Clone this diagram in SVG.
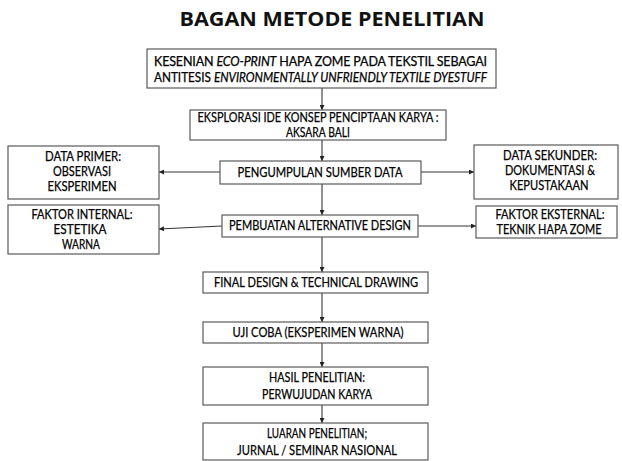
<svg xmlns="http://www.w3.org/2000/svg" width="622" height="461" viewBox="0 0 622 461">
<defs>
<style>
.box{fill:#fff;stroke:#5a5a5a;stroke-width:1.2}
.t{font-family:Lato,"Liberation Sans",sans-serif;font-size:12.5px;fill:#000;stroke:#000;stroke-width:0.25;text-anchor:middle}
.j{font-family:Lato,"Liberation Sans",sans-serif;font-size:12.5px;fill:#000;stroke:#000;stroke-width:0.25}
.title{font-family:"Open Sans","Liberation Sans",sans-serif;font-weight:bold;font-size:20px;fill:#111;text-anchor:middle}
.c{stroke:#333;stroke-width:1.1;fill:none;marker-end:url(#ah)}
</style>
<marker id="ah" viewBox="0 0 6 6" refX="6" refY="3" markerWidth="5" markerHeight="5" orient="auto" markerUnits="userSpaceOnUse">
<path d="M0,0 L6,3 L0,6 z" fill="#222"/>
</marker>
</defs>
<rect width="622" height="461" fill="#fff"/>
<text class="title" x="332" y="26" textLength="305" lengthAdjust="spacingAndGlyphs">BAGAN METODE PENELITIAN</text>

<g id="connectors">
<line class="c" x1="322" y1="88" x2="322" y2="110"/>
<line class="c" x1="322" y1="140" x2="322" y2="161"/>
<line class="c" x1="322" y1="184" x2="322" y2="215"/>
<line class="c" x1="322" y1="237" x2="322" y2="272"/>
<line class="c" x1="322" y1="293" x2="322" y2="322"/>
<line class="c" x1="322" y1="343" x2="322" y2="367"/>
<line class="c" x1="322" y1="405" x2="322" y2="423"/>
<line class="c" x1="220" y1="172" x2="159" y2="172"/>
<line class="c" x1="421" y1="172" x2="474" y2="172"/>
<line class="c" x1="222" y1="226" x2="159" y2="229"/>
<line class="c" x1="418" y1="226" x2="476" y2="226"/>
</g>

<g id="n1">
<rect class="box" x="147" y="49" width="349" height="39"/>
<text class="j" x="154" y="66" textLength="333" lengthAdjust="spacing">KESENIAN <tspan font-style="italic">ECO-PRINT</tspan> HAPA ZOME PADA TEKSTIL SEBAGAI</text>
<text class="j" x="154" y="82" textLength="333" lengthAdjust="spacingAndGlyphs">ANTITESIS <tspan font-style="italic">ENVIRONMENTALLY UNFRIENDLY TEXTILE DYESTUFF</tspan></text>
</g>

<g id="n2">
<rect class="box" x="190" y="110" width="256" height="30"/>
<text class="t" x="318" y="122" textLength="241" lengthAdjust="spacingAndGlyphs">EKSPLORASI IDE KONSEP PENCIPTAAN KARYA :</text>
<text class="t" x="318" y="137" textLength="64" lengthAdjust="spacingAndGlyphs">AKSARA BALI</text>
</g>

<g id="n3">
<rect class="box" x="220" y="161" width="201" height="23"/>
<text class="t" x="320" y="177" textLength="165" lengthAdjust="spacingAndGlyphs">PENGUMPULAN SUMBER DATA</text>
</g>

<g id="n4">
<rect class="box" x="222" y="215" width="196" height="22"/>
<text class="t" x="320" y="230" textLength="182" lengthAdjust="spacingAndGlyphs">PEMBUATAN ALTERNATIVE DESIGN</text>
</g>

<g id="n5">
<rect class="box" x="8" y="146" width="151" height="53"/>
<text class="t" x="83" y="161" textLength="76" lengthAdjust="spacingAndGlyphs">DATA PRIMER:</text>
<text class="t" x="82" y="176" textLength="58" lengthAdjust="spacingAndGlyphs">OBSERVASI</text>
<text class="t" x="82" y="191" textLength="69" lengthAdjust="spacingAndGlyphs">EKSPERIMEN</text>
</g>

<g id="n6">
<rect class="box" x="8" y="205" width="151" height="49"/>
<text class="t" x="82" y="219" textLength="101" lengthAdjust="spacingAndGlyphs">FAKTOR INTERNAL:</text>
<text class="t" x="80" y="234" textLength="53" lengthAdjust="spacingAndGlyphs">ESTETIKA</text>
<text class="t" x="81" y="249" textLength="38" lengthAdjust="spacingAndGlyphs">WARNA</text>
</g>

<g id="n7">
<rect class="box" x="474" y="145" width="144" height="54"/>
<text class="t" x="550" y="160" textLength="94" lengthAdjust="spacingAndGlyphs">DATA SEKUNDER:</text>
<text class="t" x="550" y="175" textLength="90" lengthAdjust="spacingAndGlyphs">DOKUMENTASI &amp;</text>
<text class="t" x="549" y="190" textLength="79" lengthAdjust="spacingAndGlyphs">KEPUSTAKAAN</text>
</g>

<g id="n8">
<rect class="box" x="476" y="206" width="141" height="32"/>
<text class="t" x="550" y="219" textLength="109" lengthAdjust="spacingAndGlyphs">FAKTOR EKSTERNAL:</text>
<text class="t" x="549" y="234" textLength="105" lengthAdjust="spacingAndGlyphs">TEKNIK HAPA ZOME</text>
</g>

<g id="n9">
<rect class="box" x="203" y="272" width="225" height="21"/>
<text class="t" x="316" y="287" textLength="204" lengthAdjust="spacingAndGlyphs">FINAL DESIGN &amp; TECHNICAL DRAWING</text>
</g>

<g id="n10">
<rect class="box" x="203" y="322" width="225" height="21"/>
<text class="t" x="318" y="337" textLength="171" lengthAdjust="spacingAndGlyphs">UJI COBA (EKSPERIMEN WARNA)</text>
</g>

<g id="n11">
<rect class="box" x="203" y="367" width="225" height="38"/>
<text class="t" x="317" y="382" textLength="96" lengthAdjust="spacingAndGlyphs">HASIL PENELITIAN:</text>
<text class="t" x="317" y="399" textLength="110" lengthAdjust="spacingAndGlyphs">PERWUJUDAN KARYA</text>
</g>

<g id="n12">
<rect class="box" x="203" y="423" width="225" height="37"/>
<text class="t" x="317" y="438" textLength="100" lengthAdjust="spacingAndGlyphs">LUARAN PENELITIAN;</text>
<text class="t" x="317" y="455" textLength="160" lengthAdjust="spacingAndGlyphs">JURNAL / SEMINAR NASIONAL</text>
</g>
</svg>
